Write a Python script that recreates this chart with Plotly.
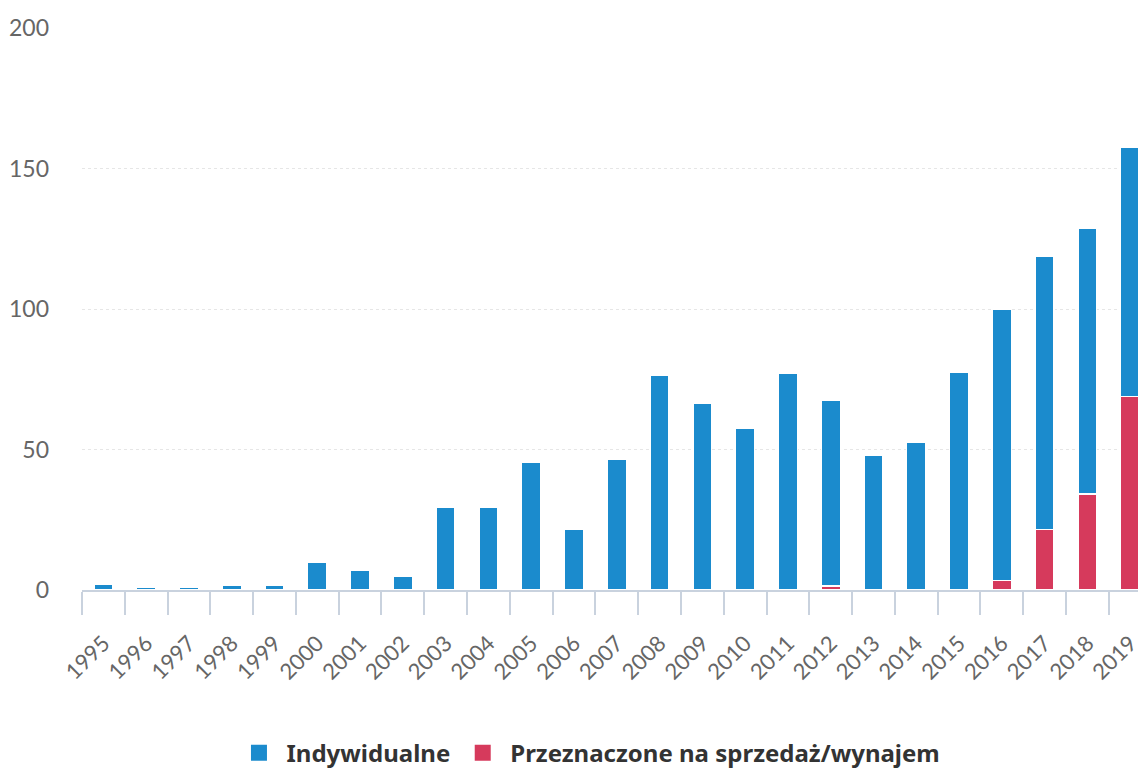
import plotly.graph_objects as go

LATA = [str(r) for r in range(1995, 2020)]

# wartości (łącznie i część na sprzedaż/wynajem)
RAZEM = [2, 0.8, 0.8, 1.5, 1.5, 10, 6.8, 5, 29.4, 29.4, 45.4, 21.4, 46.6, 76.3,
         66.3, 57.5, 77.2, 67.4, 48, 52.7, 77.5, 100, 118.8, 128.7, 157.4]
SPRZEDAZ = [0, 0, 0, 0, 0, 0, 0, 0, 0, 0, 0, 0, 0, 0,
            0, 0, 0, 1.4, 0, 0, 0, 3.5, 21.6, 34.2, 69.0]
INDYWIDUALNE = [round(r - s, 1) for r, s in zip(RAZEM, SPRZEDAZ)]

NIEBIESKI = "#1b8bcd"
CZERWONY = "#d63a5c"
SZARY = "#666666"
LINIA = "#c9d2de"

fig = go.Figure()
fig.add_bar(x=LATA, y=SPRZEDAZ, name="Przeznaczone na sprzedaż/wynajem",
            marker={"color": CZERWONY, "line": {"color": "white", "width": 1.2}},
            showlegend=False)
fig.add_bar(x=LATA, y=INDYWIDUALNE, name="Indywidualne",
            marker={"color": NIEBIESKI, "line": {"color": "white", "width": 1.2}},
            showlegend=False)

# legenda z większymi kwadratami
for nazwa, kolor in [("Indywidualne", NIEBIESKI), ("Przeznaczone na sprzedaż/wynajem", CZERWONY)]:
    fig.add_scatter(x=[None], y=[None], mode="markers", name=nazwa,
                    marker={"symbol": "square", "size": 16, "color": kolor})

fig.update_layout(
    width=1138, height=762,
    barmode="stack", bargap=0.56,
    paper_bgcolor="white", plot_bgcolor="white",
    margin={"l": 74, "r": 0, "t": 20, "b": 180},
    font={"family": "Lato, 'Open Sans', sans-serif", "color": SZARY, "size": 22},
    legend={"orientation": "h", "x": 0.476, "xanchor": "center",
            "yref": "container", "y": 0.022, "yanchor": "middle",
            "itemwidth": 45,
            "font": {"family": "'Noto Sans', sans-serif", "size": 24, "color": "#333333",
                     "weight": "bold"},
            "traceorder": "normal", "itemsizing": "trace"},
    showlegend=True,
)
fig.update_xaxes(
    range=[-0.5, 24.37], tickangle=-45, tickson="boundaries", ticks="outside",
    ticklen=23, tickcolor=LINIA, tickwidth=1.5, ticklabelstandoff=30,
    showline=True, linecolor=LINIA, linewidth=1.5, showgrid=False,
    tickfont={"size": 22, "color": SZARY},
)
fig.update_yaxes(
    range=[0, 200], tickvals=[0, 50, 100, 150, 200], showgrid=True,
    gridcolor="#e6e6e6", griddash="dot", gridwidth=1, zeroline=False,
    ticklabelstandoff=32, tickfont={"size": 23, "color": SZARY},
)

fig.write_html("out.html")
